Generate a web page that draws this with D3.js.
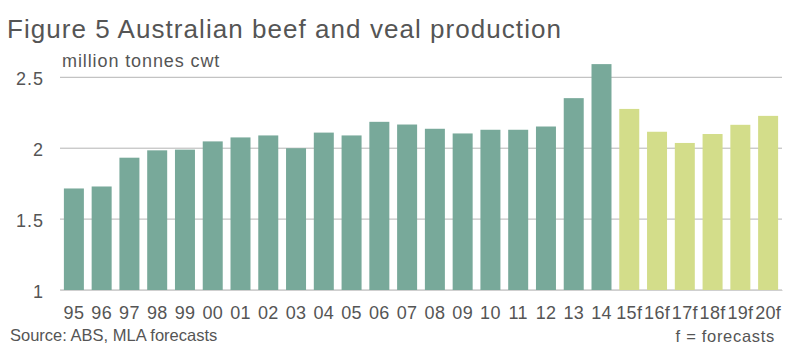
<!DOCTYPE html>
<html>
<head>
<meta charset="utf-8">
<script src="https://cdn.jsdelivr.net/npm/d3@7"></script>
<style>
  body { margin: 0; background: #fff; }
  text { font-family: "Liberation Sans", Arial, sans-serif; fill: #555; }
</style>
</head>
<body>
<div id="chart"></div>
<script>
// data
const years = ["95", "96", "97", "98", "99", "00", "01", "02", "03", "04", "05", "06", "07",
  "08", "09", "10", "11", "12", "13", "14", "15f", "16f", "17f", "18f", "19f", "20f"];
const production = [1.716, 1.73, 1.933, 1.985, 1.99, 2.048, 2.076, 2.09, 2.0, 2.11, 2.09, 2.186, 2.167,
  2.137, 2.104, 2.13, 2.13, 2.153, 2.353, 2.593, 2.277, 2.116, 2.037, 2.10, 2.165, 2.228];
const yTicks = [1, 1.5, 2, 2.5];

const width = 799,
  height = 353;

const svg = d3
  .select("#chart")
  .append("svg")
  .attr("width", width)
  .attr("height", height);

const x = d3
  .scaleBand()
  .domain(years)
  .range([60, 782])
  .paddingInner(0.28)
  .paddingOuter(0.14);

const y = d3.scaleLinear().domain([1, 2.5]).range([290, 77.3]);

// title
svg
  .append("text")
  .attr("x", 7)
  .attr("y", 38)
  .style("font-size", "26px")
  .style("letter-spacing", "1.05px")
  .text("Figure 5 Australian beef and veal production");

svg
  .append("text")
  .attr("x", 62)
  .attr("y", 66.5)
  .style("font-size", "18px")
  .style("letter-spacing", "0.9px")
  .text("million tonnes cwt");

// gridlines
svg
  .append("g")
  .selectAll("line")
  .data(yTicks)
  .join("line")
  .attr("x1", 60)
  .attr("x2", 782)
  .attr("y1", d => y(d))
  .attr("y2", d => y(d))
  .attr("stroke", "#b4b4b4")
  .attr("stroke-width", 1);

// y axis labels
const yAxis = d3
  .axisLeft(y)
  .tickValues(yTicks)
  .tickSize(0)
  .tickPadding(0)
  .tickFormat(d3.format("~g"));

svg
  .append("g")
  .attr("transform", "translate(44,0)")
  .call(yAxis)
  .call(g => g.select(".domain").remove())
  .selectAll("text")
  .attr("dy", 7.5)
  .style("font-size", "18px")
  .style("letter-spacing", "1px")
  .style("font-family", "Liberation Sans, Arial, sans-serif")
  .attr("fill", "#555");

// bars
svg
  .append("g")
  .selectAll("rect")
  .data(years)
  .join("rect")
  .attr("x", d => x(d))
  .attr("y", (d, i) => y(production[i]))
  .attr("width", x.bandwidth())
  .attr("height", (d, i) => y(1) - y(production[i]))
  .attr("fill", d => (d.endsWith("f") ? "#d3dd8a" : "#78a99a"));

// x axis
const xAxis = d3.axisBottom(x).tickSize(0).tickPadding(0);

svg
  .append("g")
  .attr("transform", "translate(0,290)")
  .call(xAxis)
  .call(g => g.select(".domain").attr("stroke", "#cfcfcf"))
  .selectAll("text")
  .attr("y", 29)
  .attr("dy", 0)
  .style("font-size", "18px")
  .style("letter-spacing", "0.3px")
  .style("font-family", "Liberation Sans, Arial, sans-serif")
  .attr("fill", "#555");

// footnotes
svg
  .append("text")
  .attr("x", 10)
  .attr("y", 341)
  .style("font-size", "16.5px")
  .text("Source: ABS, MLA forecasts");

svg
  .append("text")
  .attr("x", 775)
  .attr("y", 342)
  .attr("text-anchor", "end")
  .style("font-size", "16.5px")
  .style("letter-spacing", "0.7px")
  .text("f = forecasts");
</script>
</body>
</html>
